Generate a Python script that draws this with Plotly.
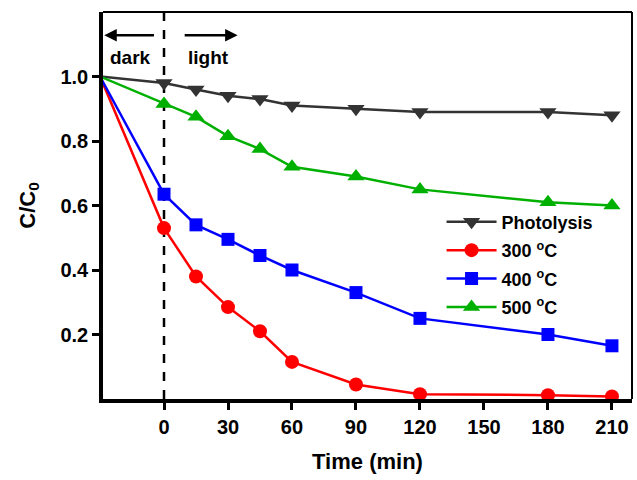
import plotly.graph_objects as go

# Sampling times (min); -30 is the start of the dark adsorption step
time_min = [-30, 0, 15, 30, 45, 60, 90, 120, 180, 210]

photolysis = [1.0, 0.98, 0.96, 0.94, 0.93, 0.91, 0.90, 0.89, 0.89, 0.88]
c300 = [1.0, 0.53, 0.38, 0.285, 0.21, 0.115, 0.045, 0.015, 0.012, 0.008]
c400 = [1.0, 0.635, 0.54, 0.495, 0.445, 0.40, 0.33, 0.25, 0.20, 0.165]
c500 = [1.0, 0.915, 0.875, 0.815, 0.775, 0.72, 0.69, 0.65, 0.61, 0.60]

x_ticks = [0, 30, 60, 90, 120, 150, 180, 210]
y_ticks = [0.2, 0.4, 0.6, 0.8, 1.0]

FONT = "Liberation Sans, Arial, sans-serif"

series = [
    ("Photolysis", photolysis, "#333333", "triangle-down", 15),
    ("300 <sup>o</sup>C", c300, "#FF0000", "circle", 14),
    ("400 <sup>o</sup>C", c400, "#0000FF", "square", 13),
    ("500 <sup>o</sup>C", c500, "#00B000", "triangle-up", 15),
]

fig = go.Figure()
for i, (name, vals, color, sym, size) in enumerate(series):
    fig.add_trace(go.Scatter(
        x=time_min, y=vals, name=name, mode="lines+markers",
        legendgroup=f"g{i}",
        line=dict(color=color, width=2.5),
        marker=dict(color=color, symbol=sym, size=size),
        cliponaxis=False,
    ))

# light switched on at t = 0
fig.add_shape(type="line", x0=0, x1=0, y0=0, y1=1.2, xref="x", yref="y",
              line=dict(color="black", width=2.5, dash="dash"), layer="below")

# top and right frame
fig.add_shape(type="line", x0=0, x1=1, y0=1, y1=1, xref="paper", yref="paper",
              line=dict(color="black", width=2))
fig.add_shape(type="line", x0=1, x1=1, y0=0, y1=1, xref="paper", yref="paper",
              line=dict(color="black", width=2))

# dark / light arrows and labels
arrow_font = dict(family=FONT, size=19, color="black")
fig.add_annotation(x=-28, y=1.128, ax=-4, ay=1.128, xref="x", yref="y",
                   axref="x", ayref="y", text="", showarrow=True,
                   arrowhead=2, arrowsize=1, arrowwidth=2.5, arrowcolor="black")
fig.add_annotation(x=34.5, y=1.128, ax=9, ay=1.128, xref="x", yref="y",
                   axref="x", ayref="y", text="", showarrow=True,
                   arrowhead=2, arrowsize=1, arrowwidth=2.5, arrowcolor="black")
fig.add_annotation(x=-15.5, y=1.06, xref="x", yref="y", text="<b>dark</b>",
                   showarrow=False, font=arrow_font)
fig.add_annotation(x=21, y=1.06, xref="x", yref="y", text="<b>light</b>",
                   showarrow=False, font=arrow_font)

fig.update_layout(
    width=637, height=480,
    margin=dict(l=103, r=5, t=12, b=81),
    paper_bgcolor="white", plot_bgcolor="white",
    font=dict(family=FONT, color="black"),
    showlegend=True,
    legend=dict(
        x=0.64, y=0.505, xanchor="left", yanchor="top",
        bgcolor="rgba(0,0,0,0)", tracegroupgap=2, itemwidth=50,
        font=dict(family=FONT, size=18, color="black", weight="bold"),
    ),
    xaxis=dict(
        range=[-28.6, 219.4], tickvals=x_ticks, ticktext=[str(v) for v in x_ticks],
        showgrid=False, zeroline=False,
        showline=True, linecolor="black", linewidth=3.5,
        ticks="outside", ticklen=7, tickwidth=2.5, tickcolor="black",
        tickfont=dict(family=FONT, size=20, weight="bold"),
        title=dict(text="<b>Time (min)</b>", font=dict(family=FONT, size=22), standoff=18),
    ),
    yaxis=dict(
        range=[0, 1.2], tickvals=y_ticks, ticktext=["0.2", "0.4", "0.6", "0.8", "1.0"],
        showgrid=False, zeroline=False,
        showline=True, linecolor="black", linewidth=3.5,
        ticks="outside", ticklen=7, tickwidth=2.5, tickcolor="black",
        tickfont=dict(family=FONT, size=20, weight="bold"),
        title=dict(text="<b>C/C<sub>0</sub></b>", font=dict(family=FONT, size=22), standoff=20),
    ),
)

fig.write_html("out.html")
